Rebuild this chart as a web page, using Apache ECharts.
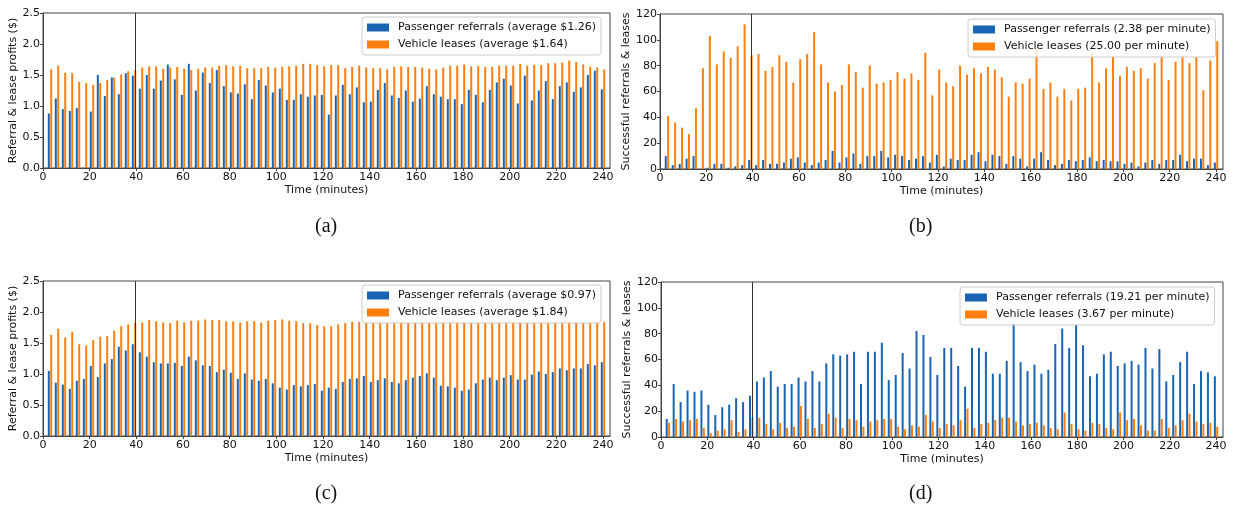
<!DOCTYPE html>
<html><head><meta charset="utf-8">
<script src="https://cdn.jsdelivr.net/npm/echarts@6/dist/echarts.min.js"></script>
<style>html,body{margin:0;padding:0;background:#fff}#c{width:1237px;height:508px}</style>
</head><body><div id="c"></div>
<script>
// ---- data ----
const times = [3,6,9,12,15,18,21,24,27,30,33,36,39,42,45,48,51,54,57,60,63,66,69,72,75,78,81,84,87,90,
  93,96,99,102,105,108,111,114,117,120,123,126,129,132,135,138,141,144,147,150,153,156,159,162,165,168,171,174,177,180,
  183,186,189,192,195,198,201,204,207,210,213,216,219,222,225,228,231,234,237,240];
const xTicks = [0,20,40,60,80,100,120,140,160,180,200,220,240];
const profitTicks = [0,0.5,1,1.5,2,2.5];
const countTicks = [0,20,40,60,80,100,120];
const switchTime = 40;

const aBlue = [0.88,1.12,0.95,0.92,0.97,0,0.91,1.50,1.16,1.46,
  1.19,1.53,1.49,1.28,1.50,1.28,1.41,1.67,1.43,1.18,
  1.68,1.25,1.54,1.37,1.58,1.32,1.22,1.20,1.35,1.11,
  1.42,1.33,1.22,1.28,1.10,1.10,1.19,1.15,1.17,1.18,
  0.86,1.17,1.34,1.19,1.30,1.06,1.07,1.26,1.37,1.17,
  1.13,1.25,1.07,1.12,1.32,1.19,1.15,1.11,1.11,1.03,
  1.26,1.18,1.06,1.26,1.38,1.44,1.33,1.04,1.49,1.09,
  1.25,1.40,1.11,1.32,1.38,1.23,1.30,1.50,1.57,1.27];
const aOrange = [1.59,1.65,1.54,1.53,1.39,1.37,1.34,1.37,1.42,1.46,
  1.51,1.56,1.58,1.62,1.64,1.64,1.60,1.62,1.63,1.60,
  1.58,1.60,1.62,1.62,1.65,1.66,1.64,1.65,1.61,1.61,
  1.61,1.63,1.62,1.63,1.64,1.65,1.68,1.68,1.66,1.64,
  1.66,1.66,1.61,1.63,1.65,1.62,1.61,1.61,1.59,1.63,
  1.64,1.63,1.63,1.62,1.60,1.59,1.62,1.65,1.65,1.67,
  1.64,1.64,1.63,1.63,1.65,1.65,1.65,1.68,1.65,1.66,
  1.66,1.69,1.69,1.70,1.73,1.71,1.67,1.63,1.62,1.59];
const bBlue = [10,3,4,8,10,0,1,4,4,1,
  2,3,7,3,7,4,4,5,8,9,
  5,3,5,7,14,5,9,12,4,10,
  10,14,9,11,10,7,8,10,5,11,
  2,8,7,7,11,13,6,11,10,4,
  10,8,2,8,13,7,3,4,7,6,
  7,9,6,7,6,6,4,5,2,5,
  7,4,7,7,11,6,8,8,3,5];
const bOrange = [41,36,32,27,47,78,103,81,91,86,
  95,112,88,89,76,79,88,83,67,85,
  89,106,81,67,60,65,81,75,63,80,
  66,67,69,75,70,74,69,90,57,77,
  67,64,80,73,78,74,79,77,71,56,
  67,66,70,94,62,67,56,62,53,62,
  63,90,67,78,87,72,79,76,78,70,
  82,88,69,83,88,82,87,61,84,99];
const cBlue = [1.05,0.86,0.83,0.76,0.89,0.92,1.13,0.95,1.17,1.24,
  1.44,1.38,1.48,1.35,1.28,1.19,1.17,1.17,1.18,1.13,
  1.28,1.22,1.14,1.13,1.03,1.07,1.02,0.92,1.01,0.91,
  0.89,0.92,0.85,0.78,0.75,0.82,0.80,0.82,0.84,0.73,
  0.78,0.76,0.87,0.92,0.93,0.97,0.87,0.90,0.93,0.87,
  0.85,0.90,0.94,0.97,1.01,0.94,0.81,0.80,0.78,0.73,
  0.75,0.85,0.91,0.94,0.90,0.94,0.98,0.91,0.91,0.99,
  1.04,1.00,1.03,1.09,1.06,1.09,1.09,1.16,1.14,1.19];
const cOrange = [1.63,1.73,1.59,1.68,1.48,1.46,1.55,1.60,1.61,1.70,
  1.77,1.80,1.83,1.83,1.87,1.85,1.83,1.82,1.86,1.83,
  1.86,1.86,1.88,1.87,1.87,1.85,1.85,1.83,1.85,1.85,
  1.83,1.86,1.87,1.88,1.86,1.85,1.82,1.82,1.79,1.77,
  1.77,1.80,1.82,1.84,1.84,1.84,1.84,1.84,1.83,1.84,
  1.84,1.83,1.84,1.84,1.83,1.84,1.84,1.84,1.84,1.84,
  1.84,1.84,1.84,1.84,1.84,1.84,1.84,1.84,1.84,1.84,
  1.84,1.84,1.84,1.84,1.84,1.84,1.84,1.84,1.84,1.84];
const dBlue = [14,41,27,36,35,36,25,17,23,25,
  30,27,32,43,46,51,39,41,41,46,
  43,51,43,57,64,63,64,66,41,66,
  66,73,44,48,65,53,82,79,62,48,
  69,69,55,39,69,69,66,49,49,59,
  88,58,51,56,49,52,72,84,69,87,
  71,47,49,64,66,55,57,59,56,69,
  53,68,43,48,58,66,41,51,50,47];
const dOrange = [11,14,12,13,14,7,3,5,6,13,
  4,6,15,15,10,6,11,7,8,24,
  14,7,10,18,15,7,14,13,8,12,
  13,14,14,8,6,9,8,17,12,7,
  10,9,13,22,7,10,11,13,15,15,
  12,9,10,11,9,7,6,19,10,6,
  5,11,10,7,6,19,13,14,9,5,
  5,14,7,9,13,18,12,10,11,8];

const namesA = ['Passenger referrals (average $1.26)', 'Vehicle leases (average $1.64)'];
const namesB = ['Passenger referrals (2.38 per minute)', 'Vehicle leases (25.00 per minute)'];
const namesC = ['Passenger referrals (average $0.97)', 'Vehicle leases (average $1.84)'];
const namesD = ['Passenger referrals (19.21 per minute)', 'Vehicle leases (3.67 per minute)'];
const captions = ['(a)', '(b)', '(c)', '(d)'];

// ---- styling / layout ----
const BLUE = '#1965b3', ORANGE = '#ff7f0e', AX = '#444';
const FONT = 'DejaVu Sans';
const panels = [
  {grid:{left:43, top:13, width:567, height:155}, legend:{left:362, top:17}, names:namesA, blue:aBlue, orange:aOrange, profit:true, cap:[327,228]},
  {grid:{left:660, top:14, width:563, height:155}, legend:{left:968, top:19}, names:namesB, blue:bBlue, orange:bOrange, profit:false, cap:[921,228]},
  {grid:{left:43, top:281, width:567, height:155}, legend:{left:362, top:285}, names:namesC, blue:cBlue, orange:cOrange, profit:true, cap:[327,495]},
  {grid:{left:661, top:282, width:562, height:155}, legend:{left:960, top:287}, names:namesD, blue:dBlue, orange:dOrange, profit:false, cap:[921,495]}
];

const txt = {fontFamily: FONT, fontSize: 11, color: '#111'};
const option = {animation:false, backgroundColor:'#fff', grid:[], xAxis:[], yAxis:[], series:[], legend:[], graphic:[]};

panels.forEach((p, i) => {
  option.grid.push(Object.assign({show:true, borderColor:AX, borderWidth:1, containLabel:false}, p.grid));
  option.xAxis.push({
    gridIndex:i, type:'value', min:0, max:243, interval:20,
    axisLine:{show:true, onZero:false, lineStyle:{color:AX, width:1}},
    axisTick:{show:true, length:3, lineStyle:{color:AX}, customValues:xTicks},
    axisLabel:Object.assign({margin:4, customValues:xTicks}, txt),
    splitLine:{show:false},
    name:'Time (minutes)', nameLocation:'middle', nameGap:17, nameTextStyle:txt
  });
  option.yAxis.push({
    gridIndex:i, type:'value', min:0, max:p.profit?2.5:120, interval:p.profit?0.5:20,
    axisLine:{show:true, lineStyle:{color:AX, width:1}},
    axisTick:{show:true, length:3, lineStyle:{color:AX}, customValues:p.profit?profitTicks:countTicks},
    axisLabel:Object.assign({margin:3, customValues:p.profit?profitTicks:countTicks,
      formatter: v => p.profit ? Number(v).toFixed(1) : String(v)}, txt),
    splitLine:{show:false},
    name:p.profit?'Referral & lease profits ($)':'Successful referrals & leases',
    nameLocation:'middle', nameGap:p.profit?24:27, nameTextStyle:txt
  });
  option.series.push({
    type:'bar', name:p.names[0], xAxisIndex:i, yAxisIndex:i,
    data: times.map((t,k)=>[t, p.blue[k]]), barWidth:2, barGap:'20%',
    itemStyle:{color:BLUE},
    markLine:{silent:true, symbol:'none', label:{show:false},
      lineStyle:{color:'#333', width:1, type:'solid'}, data:[{xAxis:switchTime}]}
  });
  option.series.push({
    type:'bar', name:p.names[1], xAxisIndex:i, yAxisIndex:i,
    data: times.map((t,k)=>[t, p.orange[k]]), barWidth:2, barGap:'20%',
    itemStyle:{color:ORANGE}
  });
  option.legend.push(Object.assign({
    data:p.names, orient:'vertical', icon:'rect', itemWidth:22, itemHeight:8, itemGap:4,
    padding:[4,5,4,5], backgroundColor:'rgba(255,255,255,0.8)', borderColor:'#ccc', borderWidth:1, borderRadius:3,
    textStyle:Object.assign({lineHeight:13, padding:[0,0,0,4]}, txt), selectedMode:false
  }, p.legend));
  option.graphic.push({type:'text', left:p.cap[0]-12, top:p.cap[1]-11,
    style:{text:captions[i], fontFamily:'Liberation Serif', fontSize:20, fill:'#111'}});
});

const chart = echarts.init(document.getElementById('c'), null, {renderer:'canvas'});
chart.setOption(option);
</script></body></html>
